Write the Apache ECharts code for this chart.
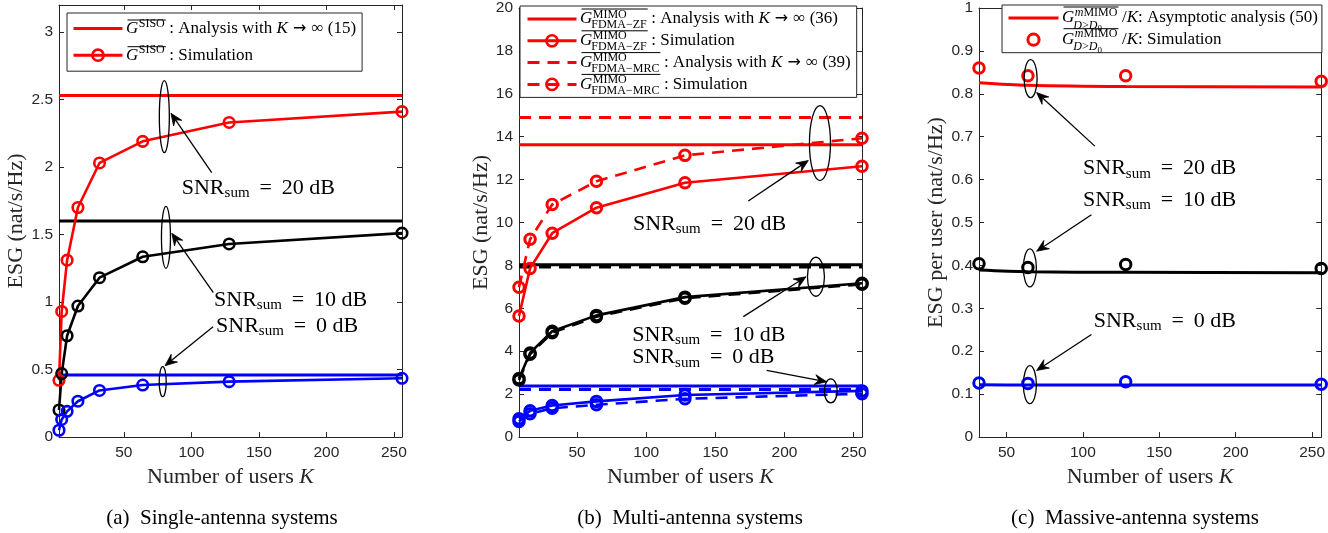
<!DOCTYPE html>
<html><head><meta charset="utf-8">
<script src="https://cdn.jsdelivr.net/npm/echarts@6/dist/echarts.min.js"></script>
<style>html,body{margin:0;padding:0;background:#fff}#c{width:1328px;height:533px}</style>
</head><body><div id="c"></div>
<script>
// ---------------- data ----------------
const K_A = [2, 4, 8, 16, 32, 64, 128, 256];
const A_SIM_20 = [0.42, 0.93, 1.31, 1.70, 2.03, 2.19, 2.33, 2.41];
const A_SIM_10 = [0.20, 0.47, 0.75, 0.97, 1.18, 1.335, 1.43, 1.51];
const A_SIM_0  = [0.05, 0.13, 0.19, 0.265, 0.345, 0.385, 0.41, 0.435];
const A_ANA    = [2.53, 1.60, 0.46];            // 20, 10, 0 dB

const K_B = [8, 16, 32, 64, 128, 256];
const B_ZF_20  = [5.64, 7.86, 9.50, 10.69, 11.85, 12.62];
const B_MRC_20 = [6.98, 9.22, 10.84, 11.92, 13.13, 13.93];
const B_ZF_10  = [2.73, 3.92, 4.93, 5.67, 6.52, 7.17];
const B_MRC_10 = [2.66, 3.86, 4.86, 5.61, 6.47, 7.12];
const B_ZF_0   = [0.85, 1.22, 1.47, 1.66, 1.96, 2.15];
const B_MRC_0  = [0.72, 1.08, 1.34, 1.50, 1.78, 2.02];
const B_ZF_ANA  = [13.62, 8.03, 2.38];
const B_MRC_ANA = [14.90, 7.93, 2.22];

const K_C = [32, 64, 128, 256];
const C_SIM_20 = [0.860, 0.842, 0.842, 0.829];
const C_SIM_10 = [0.404, 0.395, 0.402, 0.393];
const C_SIM_0  = [0.126, 0.125, 0.129, 0.123];
const C_ANA_20 = [0.826, 0.820, 0.817, 0.816];
const C_ANA_10 = [0.389, 0.385, 0.384, 0.383];
const C_ANA_0  = [0.122, 0.121, 0.121, 0.121];

const X_TICKS   = [50, 100, 150, 200, 250];
const Y_TICKS_A = [0, 0.5, 1, 1.5, 2, 2.5, 3];
const Y_TICKS_B = [0, 2, 4, 6, 8, 10, 12, 14, 16, 18, 20];
const Y_TICKS_C = [0, 0.1, 0.2, 0.3, 0.4, 0.5, 0.6, 0.7, 0.8, 0.9, 1];
const Y_MAX = [3.2, 20, 1];

const CAPTIONS = ['(a)  Single-antenna systems', '(b)  Multi-antenna systems', '(c)  Massive-antenna systems'];

// annotation anchors in data coordinates [panel, x, y, ...]
const ELLIPSES = [[0, 80, 2.373, 5, 36], [0, 81.2, 1.479, 4.5, 31], [0, 78.8, 0.41, 3.5, 15],
                  [1, 225.6, 13.70, 10.5, 37.5], [1, 222.7, 7.47, 8.5, 19.5], [1, 233.4, 2.15, 6.5, 12],
                  [2, 65.8, 0.8356, 6.5, 19], [2, 65.3, 0.394, 6.5, 19], [2, 65.3, 0.122, 6.5, 19]];
const ARROWS = [[0, 115.1, 1.958, 84.9, 2.398], [0, 116.3, 1.069, 85.5, 1.509], [0, 116.1, 0.817, 80.5, 0.528],
                [1, 173.8, 11.0, 217.2, 12.89], [1, 170.2, 5.61, 215.5, 7.47], [1, 187.1, 3.11, 230.5, 2.57],
                [2, 107.8, 0.678, 69.7, 0.803], [2, 105.6, 0.518, 69.7, 0.433], [2, 105.6, 0.239, 69.7, 0.155]];
const LABELS = [[0, 92.9, 1.844, '20'], [0, 116.8, 1.015, '10'], [0, 118.3, 0.822, '0'],
                [1, 90.4, 9.92, '20'], [1, 89.9, 4.73, '10'], [1, 89.9, 3.70, '0'],
                [2, 100.1, 0.6257, '20'], [2, 100.1, 0.552, '10'], [2, 107.1, 0.271, '0']];

// ---------------- style ----------------
const SERIF = '"Liberation Serif", "Times New Roman", serif';
const SANS = '"Liberation Sans", Arial, sans-serif';
const SYM = '"DejaVu Sans", sans-serif';
const AXC = '#262626';
const RED = '#ff0000', BLK = '#000000', BLU = '#0000ff';
const DASH = [12, 8];

const mctx = document.createElement('canvas').getContext('2d');
function tw(t, s, it) { mctx.font = (it ? 'italic ' : '') + s + 'px ' + SERIF; return mctx.measureText(t).width; }
function txt(t, x, y, s, it, color, align) {
  return { type: 'text', x: x, y: y, z: 100, silent: true,
    style: { text: t, font: (it ? 'italic ' : '') + s + 'px ' + SERIF, fill: color || '#000',
             textAlign: align || 'left', textVerticalAlign: 'middle' } };
}
function segs(list, x, y) {
  const els = []; let cx = x;
  list.forEach(sg => { els.push(txt(sg.t, cx, y + (sg.dy || 0), sg.s, sg.it)); cx += tw(sg.t, sg.s, sg.it); });
  return { els, w: cx - x };
}
// G-block with overline, superscript and optional subscript
function gBlock(kind, x, y) {
  const wG = tw('G', 17, true);
  let sup, sub = null, supDy, subDy = 6, olDy;
  if (kind === 'A') { sup = [{ t: 'SISO', s: 12 }]; supDy = -5; olDy = -8.5; }
  else if (kind === 'Z') { sup = [{ t: 'MIMO', s: 12 }]; sub = [{ t: 'FDMA\u2212ZF', s: 12 }]; supDy = -4.5; olDy = -10; }
  else if (kind === 'M') { sup = [{ t: 'MIMO', s: 12 }]; sub = [{ t: 'FDMA\u2212MRC', s: 12 }]; supDy = -4.5; olDy = -10; }
  else { sup = [{ t: 'm', s: 12, it: true }, { t: 'MIMO', s: 12 }];
         sub = [{ t: 'D', s: 12, it: true }, { t: '>', s: 12 }, { t: 'D', s: 12, it: true }, { t: '0', s: 9, dy: 3 }];
         supDy = -5.5; subDy = 7.5; olDy = -11; }
  const els = [txt('G', x, y, 17, true)];
  const s1 = segs(sup.map(o => Object.assign({}, o, { dy: (o.dy || 0) + supDy })), x + wG + 0.5, y);
  els.push(...s1.els);
  let w = wG + 0.5 + s1.w;
  if (sub) {
    const s2 = segs(sub.map(o => Object.assign({}, o, { dy: (o.dy || 0) + subDy })), x + wG - 1, y);
    els.push(...s2.els);
    w = Math.max(w, wG - 1 + s2.w);
  }
  els.push({ type: 'line', z: 100, silent: true, shape: { x1: x + 1.5, y1: y + olDy, x2: x + w + 1, y2: y + olDy },
             style: { stroke: '#000', lineWidth: 1 } });
  return { els, w: w + 3 };
}
const BW = { A: gBlock('A', 0, 0).w, Z: gBlock('Z', 0, 0).w, M: gBlock('M', 0, 0).w, C: gBlock('C', 0, 0).w };

// ---------------- legends ----------------
const LEGS = [
  { left: 67, top: 13, pad: [5.5, 6, 6, 5], iw: 49, gap: 6.7, items: [['a_ana', 'A'], ['a_sim', 'A']] },
  { left: 520, top: 6, pad: [3, 6, 3, 6], iw: 49, gap: 1.8, items: [['b_zf_ana', 'Z'], ['b_zf_sim', 'Z'], ['b_mrc_ana', 'M'], ['b_mrc_sim', 'M']] },
  { left: 1002, top: 5, pad: [3, 4, 3, 5], iw: 50, gap: 1.7, items: [['c_ana', 'C'], ['c_sim', 'C']] }
];
const LEG_TEXT = {
  a_ana: '{spA| }{t|: Analysis with }{i|K}{ar| \u2192 }{t|\u221e (15)}',
  a_sim: '{spA| }{t|: Simulation}',
  b_zf_ana: '{spZ| }{t|: Analysis with }{i|K}{ar| \u2192 }{t|\u221e (36)}',
  b_zf_sim: '{spZ| }{t|: Simulation}',
  b_mrc_ana: '{spM| }{t|: Analysis with }{i|K}{ar| \u2192 }{t|\u221e (39)}',
  b_mrc_sim: '{spM| }{t|: Simulation}',
  c_ana: '{spC| }{t|/}{i|K}{t|: Asymptotic analysis (50)}',
  c_sim: '{spC| }{t|/}{i|K}{t|: Simulation}'
};
const LEG_ITEM = {
  a_ana: { lineStyle: { color: RED, width: 3, type: 'solid' }, itemStyle: { opacity: 0 } },
  a_sim: { lineStyle: { color: RED, width: 3, type: 'solid' }, itemStyle: { color: 'transparent', borderColor: RED, borderWidth: 2.6 } },
  b_zf_ana: { lineStyle: { color: RED, width: 3, type: 'solid' }, itemStyle: { opacity: 0 } },
  b_zf_sim: { lineStyle: { color: RED, width: 3, type: 'solid' }, itemStyle: { color: 'transparent', borderColor: RED, borderWidth: 2.6 } },
  b_mrc_ana: { lineStyle: { color: RED, width: 3, type: DASH }, itemStyle: { opacity: 0 } },
  b_mrc_sim: { lineStyle: { color: RED, width: 3, type: DASH }, itemStyle: { color: 'transparent', borderColor: RED, borderWidth: 2.6 } },
  c_ana: { lineStyle: { color: RED, width: 3, type: 'solid' }, itemStyle: { opacity: 0 } },
  c_sim: { lineStyle: { opacity: 0 }, itemStyle: { color: 'transparent', borderColor: RED, borderWidth: 3 } }
};
function richBase(sz, extra) { return Object.assign({ fontFamily: SERIF, fontSize: sz, color: '#000', lineHeight: 20 }, extra || {}); }
const LEG_RICH = {
  t: richBase(17), i: richBase(17, { fontStyle: 'italic' }), ar: richBase(16, { fontFamily: SYM }),
  spA: richBase(17, { width: BW.A }), spZ: richBase(17, { width: BW.Z }),
  spM: richBase(17, { width: BW.M }), spC: richBase(17, { width: BW.C })
};

// ---------------- axes ----------------
const GRIDS = [
  { left: 59, top: 5, width: 343, height: 432 },
  { left: 519, top: 6, width: 343, height: 431 },
  { left: 979, top: 5, width: 343, height: 432 }
];
const XR = [[K_A[0], K_A[K_A.length - 1]], [K_B[0], K_B[K_B.length - 1]], [K_C[0], K_C[K_C.length - 1]]];
const YT = [Y_TICKS_A, Y_TICKS_B, Y_TICKS_C];
const YNAMES = ['ESG (nat/s/Hz)', 'ESG (nat/s/Hz)', 'ESG per user (nat/s/Hz)'];
const YGAP = [32, 26, 30];
const labelStyle = { fontFamily: SANS, fontSize: 15.5, color: AXC };
const nameStyle = { fontFamily: SERIF, fontSize: 22, color: AXC,
  rich: { n: { fontFamily: SERIF, fontSize: 22, color: AXC }, i: { fontFamily: SERIF, fontSize: 22, color: AXC, fontStyle: 'italic' } } };

const xAxes = [], yAxes = [];
['bottom', 'top'].forEach(pos => {
  for (let g = 0; g < 3; g++) {
    xAxes.push({ type: 'value', gridIndex: g, position: pos, min: XR[g][0], max: XR[g][1],
      axisLine: { show: true, onZero: false, lineStyle: { color: AXC, width: 1 } },
      axisTick: { show: true, inside: true, length: 5, customValues: X_TICKS, lineStyle: { color: AXC } },
      axisLabel: { show: pos === 'bottom', customValues: X_TICKS, margin: 8, ...labelStyle },
      splitLine: { show: false },
      name: pos === 'bottom' ? '{n|Number of users }{i|K}' : '', nameLocation: 'middle', nameGap: 26, nameTextStyle: nameStyle });
  }
});
['left', 'right'].forEach(pos => {
  for (let g = 0; g < 3; g++) {
    yAxes.push({ type: 'value', gridIndex: g, position: pos, min: 0, max: Y_MAX[g],
      axisLine: { show: true, onZero: false, lineStyle: { color: AXC, width: 1 } },
      axisTick: { show: true, inside: true, length: 5, customValues: YT[g], lineStyle: { color: AXC } },
      axisLabel: { show: pos === 'left', customValues: YT[g], margin: 6, ...labelStyle },
      splitLine: { show: false },
      name: pos === 'left' ? YNAMES[g] : '', nameLocation: 'middle', nameGap: YGAP[g], nameTextStyle: nameStyle });
  }
});

// ---------------- series ----------------
const series = [];
function hline(name, g, v, color, dashed) {
  series.push({ name, type: 'line', xAxisIndex: g, yAxisIndex: g, symbol: 'none', z: 3,
    data: [[XR[g][0], v], [XR[g][1], v]],
    lineStyle: { color, width: 3, type: dashed ? DASH : 'solid' }, itemStyle: { color } });
}
function sim(name, g, xs, ys, color, dashed, opt) {
  opt = opt || {};
  series.push({ name, type: 'line', xAxisIndex: g, yAxisIndex: g, z: 4,
    data: xs.map((x, i) => [x, ys[i]]),
    symbol: 'circle', showSymbol: true, symbolSize: opt.size || 10.5,
    lineStyle: opt.noLine ? { color, width: 0, opacity: 0 } : { color, width: opt.lw || 2.6, type: dashed ? DASH : 'solid' },
    itemStyle: { color: 'transparent', borderColor: color, borderWidth: opt.bw || 2.6 } });
}
function curve(name, g, xs, ys, color) {
  series.push({ name, type: 'line', xAxisIndex: g, yAxisIndex: g, symbol: 'none', z: 3, smooth: 0.3,
    data: xs.map((x, i) => [x, ys[i]]), lineStyle: { color, width: 3 }, itemStyle: { color } });
}
// (a)
hline('a_ana', 0, A_ANA[0], RED); sim('a_sim', 0, K_A, A_SIM_20, RED);
hline('a_ana10', 0, A_ANA[1], BLK); sim('a_sim10', 0, K_A, A_SIM_10, BLK);
hline('a_ana0', 0, A_ANA[2], BLU); sim('a_sim0', 0, K_A, A_SIM_0, BLU);
// (b)
const bo = { size: 10.5, bw: 3, lw: 2.6 };
hline('b_zf_ana', 1, B_ZF_ANA[0], RED); hline('b_mrc_ana', 1, B_MRC_ANA[0], RED, true);
sim('b_zf_sim', 1, K_B, B_ZF_20, RED, false, bo); sim('b_mrc_sim', 1, K_B, B_MRC_20, RED, true, bo);
hline('b_zf_ana10', 1, B_ZF_ANA[1], BLK); hline('b_mrc_ana10', 1, B_MRC_ANA[1], BLK, true);
sim('b_zf_sim10', 1, K_B, B_ZF_10, BLK, false, bo); sim('b_mrc_sim10', 1, K_B, B_MRC_10, BLK, true, bo);
hline('b_zf_ana0', 1, B_ZF_ANA[2], BLU); hline('b_mrc_ana0', 1, B_MRC_ANA[2], BLU, true);
sim('b_zf_sim0', 1, K_B, B_ZF_0, BLU, false, bo); sim('b_mrc_sim0', 1, K_B, B_MRC_0, BLU, true, bo);
// (c)
const co = { size: 10.5, bw: 3, noLine: true };
curve('c_ana', 2, K_C, C_ANA_20, RED); sim('c_sim', 2, K_C, C_SIM_20, RED, false, co);
curve('c_ana10', 2, K_C, C_ANA_10, BLK); sim('c_sim10', 2, K_C, C_SIM_10, BLK, false, co);
curve('c_ana0', 2, K_C, C_ANA_0, BLU); sim('c_sim0', 2, K_C, C_SIM_0, BLU, false, co);

const legends = LEGS.map(L => ({
  orient: 'vertical', left: L.left, top: L.top, padding: L.pad, itemWidth: L.iw, itemHeight: 14, itemGap: L.gap,
  borderColor: AXC, borderWidth: 1, backgroundColor: '#fff', selectedMode: false,
  lineStyle: { width: 'inherit' },
  data: L.items.map(it => Object.assign({ name: it[0] }, LEG_ITEM[it[0]])),
  formatter: name => LEG_TEXT[name],
  textStyle: { fontFamily: SERIF, fontSize: 17, color: '#000', lineHeight: 20, rich: LEG_RICH }
}));

const chart = echarts.init(document.getElementById('c'));
chart.setOption({
  animation: false, backgroundColor: '#fff',
  grid: GRIDS, xAxis: xAxes, yAxis: yAxes, legend: legends, series: series
});

// ---------------- annotations (converted from data coords) ----------------
const gEls = [];
const P = (g, x, y) => chart.convertToPixel({ xAxisIndex: g, yAxisIndex: g }, [x, y]);
ELLIPSES.forEach(e => {
  const p = P(e[0], e[1], e[2]);
  gEls.push({ type: 'ellipse', z: 100, silent: true, shape: { cx: p[0], cy: p[1], rx: e[3], ry: e[4] },
              style: { fill: 'none', stroke: '#000', lineWidth: 1.3 } });
});
ARROWS.forEach(a => {
  const p1 = P(a[0], a[1], a[2]), p2 = P(a[0], a[3], a[4]);
  const dx = p2[0] - p1[0], dy = p2[1] - p1[1], len = Math.hypot(dx, dy);
  const ux = dx / len, uy = dy / len, nx = -uy, ny = ux;
  const L = 12, W = 5;
  const bx = p2[0] - ux * L, by = p2[1] - uy * L;
  const kx = p2[0] - ux * L * 0.65, ky = p2[1] - uy * L * 0.65;
  gEls.push({ type: 'line', z: 100, silent: true, shape: { x1: p1[0], y1: p1[1], x2: kx, y2: ky },
              style: { stroke: '#000', lineWidth: 1.3 } });
  gEls.push({ type: 'polygon', z: 100, silent: true,
              shape: { points: [[p2[0], p2[1]], [bx + nx * W, by + ny * W], [kx, ky], [bx - nx * W, by - ny * W]] },
              style: { fill: '#000', stroke: '#000', lineWidth: 0.8 } });
});
LABELS.forEach(l => {
  const p = P(l[0], l[1], l[2]);
  const s = segs([{ t: 'SNR', s: 22 }, { t: 'sum', s: 15, dy: 5 }, { t: ' \u2009=\u2009 ' + l[3] + ' dB', s: 22 }], p[0], p[1]);
  gEls.push(...s.els);
});
// legend G-blocks
LEGS.forEach(L => {
  const x = L.left + L.pad[3] + L.iw + 5;
  L.items.forEach((it, i) => {
    const y = L.top + L.pad[0] + 10 + i * (20 + L.gap);
    gEls.push(...gBlock(it[1], x, y).els);
  });
});
// captions
const CAP_X = [222, 690, 1135];
CAPTIONS.forEach((c, i) => gEls.push(txt(c, CAP_X[i], 518, 21, false, '#000', 'center')));

chart.setOption({ graphic: { elements: gEls } });
</script></body></html>
